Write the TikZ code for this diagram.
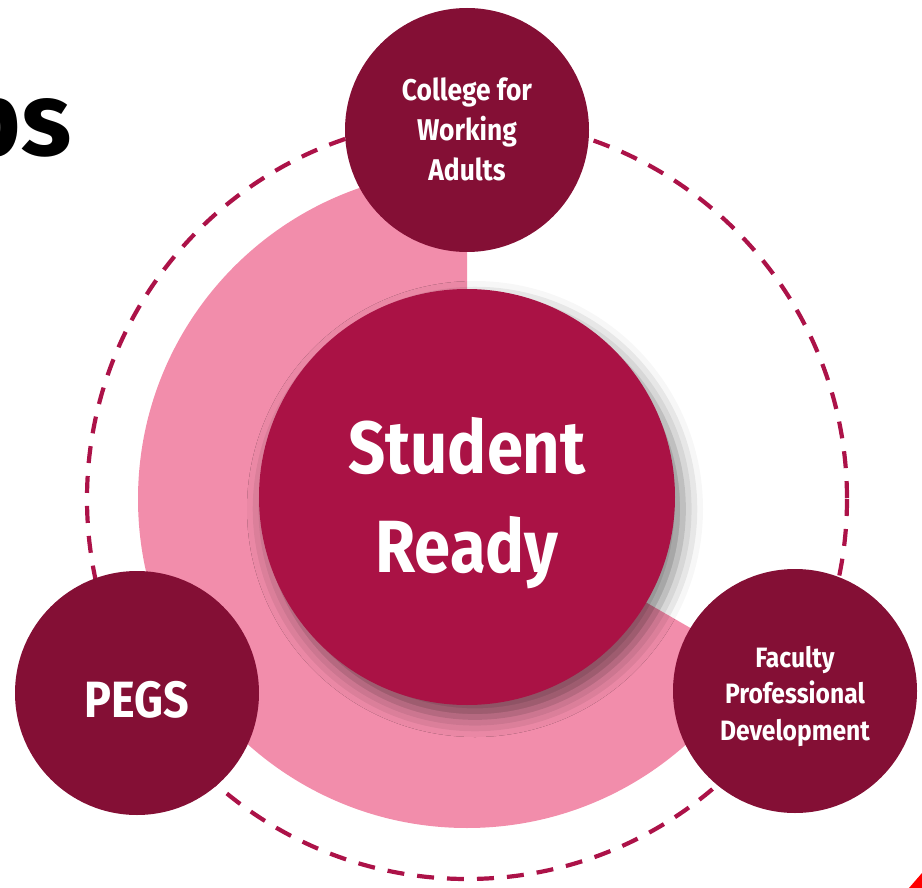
\documentclass[tikz,border=0pt]{standalone}
\usepackage{fontspec}
\setmainfont{Fira Sans}[FakeStretch=0.88]
\newfontfamily\headfont{Fira Sans}
\usetikzlibrary{shadows.blur}
\definecolor{maroon}{RGB}{132,15,53}
\definecolor{crimson}{RGB}{170,18,69}
\definecolor{pinkfill}{RGB}{242,141,171}
\definecolor{dashcol}{RGB}{172,18,72}
\tikzset{
  smallcirc/.style={circle, fill=maroon, minimum size=244pt, inner sep=0pt},
  bigcirc/.style={circle, fill=crimson, minimum size=416pt, inner sep=0pt,
     blur shadow={shadow xshift=8pt, shadow yshift=-12pt, shadow blur radius=20pt, shadow opacity=50}},
  circtext/.style={text=white, align=center, inner sep=0pt},
}
\begin{document}
\begin{tikzpicture}[x=1pt,y=-1pt]
\useasboundingbox (0,0) rectangle (922,888);
\coordinate (C) at (467,499);
% pink sector
\begin{scope}
\clip (C) -- (467,-2000) -- (-3000,-2000) -- (-3000,3000) -- (3000,3000) -- (2199,1499) -- cycle;
\fill[pinkfill] (C) circle[radius=329];
\end{scope}
% dashed ring
\draw[dashcol, line width=4.2pt, dash pattern=on 17pt off 13pt] (C) circle[radius=380];
% heading fragment
\node[anchor=base east, inner sep=0pt, font=\headfont\fontsize{104}{110}\selectfont\bfseries] (head) at (72,156) {ps};
% centre circle
\node[bigcirc] (center) at (467,497) {};
\node[circtext, font=\fontsize{74}{99}\selectfont\bfseries] (centertext) at ([yshift=-6pt]center.center) {Student\\Ready};
% satellites
\node[smallcirc] (cwa) at (467,130) {};
\node[circtext, font=\fontsize{30}{40}\selectfont\bfseries] (cwatext) at ([yshift=1pt]cwa.center) {College for\\Working\\Adults};
\node[smallcirc] (pegs) at (137,693) {};
\node[circtext, font=\fontsize{51}{60}\selectfont\bfseries] (pegstext) at ([yshift=-7pt]pegs.center) {PEGS};
\node[smallcirc] (fpd) at (795,691) {};
\node[circtext, font=\fontsize{28}{36.5}\selectfont\bfseries] (fpdtext) at ([yshift=-5pt]fpd.center) {Faculty\\Professional\\Development};
% red corner
\fill[red] (909,888) -- (922,873) -- (922,888) -- cycle;
\end{tikzpicture}
\end{document}
